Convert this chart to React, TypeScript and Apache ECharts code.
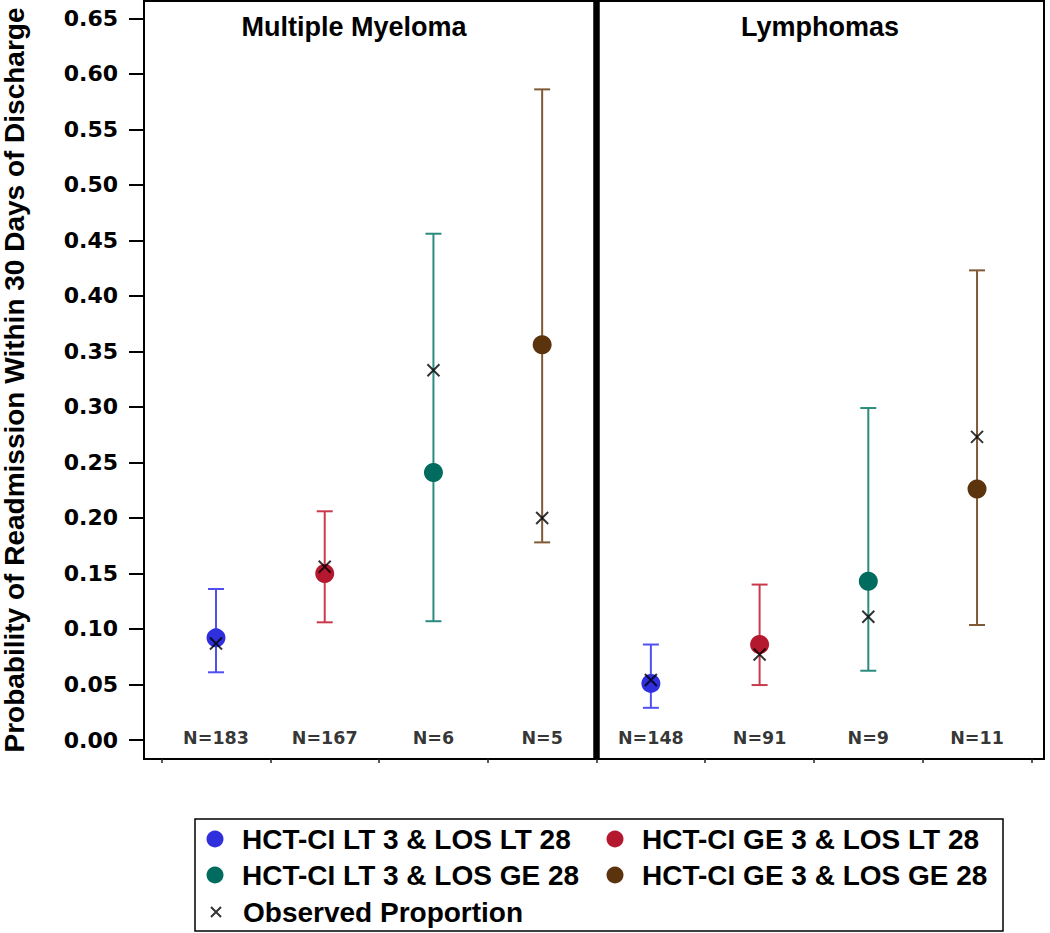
import React, { useEffect, useRef } from 'react';
import * as echarts from 'echarts';

const panelTitles = ['Multiple Myeloma', 'Lymphomas'];
const groupNames = [
  'HCT-CI LT 3 & LOS LT 28',
  'HCT-CI GE 3 & LOS LT 28',
  'HCT-CI LT 3 & LOS GE 28',
  'HCT-CI GE 3 & LOS GE 28',
];
const observedName = 'Observed Proportion';
const markerColors = ['#2F2FDE', '#B4182E', '#006B5E', '#5B330D'];
const barColors = ['#5050F0', '#C93B4C', '#2B8B7F', '#7F5A37'];

// Multiple Myeloma panel (slots 1-4)
const mmEstimate = [0.092, 0.15, 0.241, 0.356];
const mmLower = [0.061, 0.106, 0.107, 0.178];
const mmUpper = [0.136, 0.206, 0.456, 0.586];
const mmObserved = [0.087, 0.156, 0.333, 0.2];
const mmN = [183, 167, 6, 5];

// Lymphomas panel (slots 5-8)
const lymEstimate = [0.051, 0.086, 0.143, 0.226];
const lymLower = [0.029, 0.0495, 0.0624, 0.1036];
const lymUpper = [0.086, 0.14, 0.299, 0.423];
const lymObserved = [0.054, 0.077, 0.111, 0.273];
const lymN = [148, 91, 9, 11];

const yTicks = [0, 0.05, 0.1, 0.15, 0.2, 0.25, 0.3, 0.35, 0.4, 0.45, 0.5, 0.55, 0.6, 0.65];
const xSlotTicks = [0.5, 1.5, 2.5, 3.5, 4.5, 5.5, 6.5, 7.5, 8.5];
const panelDivider = 4.5;

const ARIAL = '"Liberation Sans", Arial, sans-serif';
const DEJAVU = '"DejaVu Sans", sans-serif';

const legendText = {
  fontFamily: ARIAL,
  fontWeight: 'bold',
  fontSize: 28,
  color: '#000',
  lineHeight: 36,
};

export default function App() {
  const ref = useRef<HTMLDivElement>(null);

  useEffect(() => {
    if (!ref.current) return;
    const chart = echarts.init(ref.current, null, { renderer: 'svg' });

    const slotMM = (g: number) => g + 1;
    const slotLym = (g: number) => g + 5;

    const errorData: any[] = [];
    groupNames.forEach((_, g) => {
      errorData.push([slotMM(g), mmLower[g], mmUpper[g], g]);
      errorData.push([slotLym(g), lymLower[g], lymUpper[g], g]);
    });

    const observedData: any[] = [];
    const nData: any[] = [];
    groupNames.forEach((_, g) => {
      observedData.push([slotMM(g), mmObserved[g]]);
      nData.push([slotMM(g), 0, 'N=' + mmN[g]]);
    });
    groupNames.forEach((_, g) => {
      observedData.push([slotLym(g), lymObserved[g]]);
      nData.push([slotLym(g), 0, 'N=' + lymN[g]]);
    });

    const groupSeries = groupNames.map((name, g) => ({
      name,
      type: 'scatter',
      symbol: 'circle',
      symbolSize: 19,
      z: 4,
      itemStyle: { color: markerColors[g], opacity: 1 },
      data: [
        [slotMM(g), mmEstimate[g]],
        [slotLym(g), lymEstimate[g]],
      ],
    }));

    const circleLegend = (names: string[], left: number) => ({
      data: names,
      icon: 'circle',
      orient: 'vertical',
      left,
      top: 821,
      padding: 0,
      itemGap: 0,
      itemWidth: 44,
      itemHeight: 17,
      selectedMode: false,
      textStyle: legendText,
    });

    const option: any = {
      animation: false,
      backgroundColor: '#ffffff',
      title: [
        {
          text: panelTitles[0],
          left: 354,
          top: 13,
          padding: 0,
          textAlign: 'center',
          textStyle: { fontFamily: ARIAL, fontWeight: 'bold', fontSize: 27, color: '#000' },
        },
        {
          text: panelTitles[1],
          left: 820,
          top: 13,
          padding: 0,
          textAlign: 'center',
          textStyle: { fontFamily: ARIAL, fontWeight: 'bold', fontSize: 27, color: '#000' },
        },
      ],
      grid: {
        left: 144,
        right: 6,
        top: 1,
        bottom: 174,
        show: true,
        borderColor: '#000',
        borderWidth: 2,
        backgroundColor: 'transparent',
        containLabel: false,
        outerBoundsMode: 'none',
      },
      legend: [
        circleLegend([groupNames[0], groupNames[2]], 206.5),
        circleLegend([groupNames[1], groupNames[3]], 606.5),
        {
          data: [observedName],
          orient: 'vertical',
          left: 210,
          top: 894,
          padding: 0,
          itemGap: 0,
          itemWidth: 44,
          itemHeight: 10,
          selectedMode: false,
          textStyle: legendText,
        },
      ],
      graphic: [
        {
          type: 'rect',
          shape: { x: 195, y: 819, width: 808, height: 112 },
          style: { fill: 'none', stroke: '#000', lineWidth: 1.5 },
          silent: true,
        },
      ],
      xAxis: {
        type: 'value',
        min: 0.3377,
        max: 8.616,
        axisLine: { show: true, onZero: false, lineStyle: { color: '#000', width: 2 } },
        axisTick: {
          show: true,
          customValues: xSlotTicks,
          length: 4,
          inside: false,
          lineStyle: { color: '#222', width: 1.5 },
        },
        axisLabel: { show: false },
        splitLine: { show: false },
      },
      yAxis: {
        type: 'value',
        min: -0.0171,
        max: 0.6656,
        name: 'Probability of Readmission Within 30 Days of Discharge',
        nameLocation: 'middle',
        nameGap: 116,
        nameTextStyle: { fontFamily: ARIAL, fontWeight: 'bold', fontSize: 28, color: '#000' },
        axisLine: { show: true, lineStyle: { color: '#000', width: 2 } },
        axisTick: {
          show: true,
          customValues: yTicks,
          length: 15,
          inside: false,
          lineStyle: { color: '#000', width: 2 },
        },
        axisLabel: {
          show: true,
          customValues: yTicks,
          margin: 26,
          formatter: (v: number) => v.toFixed(2),
          fontFamily: DEJAVU,
          fontWeight: 'bold',
          fontSize: 22,
          color: '#000',
        },
        splitLine: { show: false },
      },
      series: [
        {
          name: 'errorBars',
          type: 'custom',
          z: 2,
          silent: true,
          encode: { x: 0, y: [1, 2] },
          data: errorData,
          renderItem: (params: any, api: any) => {
            const x = api.value(0);
            const lo = api.value(1);
            const hi = api.value(2);
            const g = api.value(3);
            const pLo = api.coord([x, lo]);
            const pHi = api.coord([x, hi]);
            const style = { stroke: barColors[g], lineWidth: 2 };
            const cap = 8;
            return {
              type: 'group',
              children: [
                { type: 'line', shape: { x1: pLo[0], y1: pLo[1], x2: pHi[0], y2: pHi[1] }, style },
                { type: 'line', shape: { x1: pHi[0] - cap, y1: pHi[1], x2: pHi[0] + cap, y2: pHi[1] }, style },
                { type: 'line', shape: { x1: pLo[0] - cap, y1: pLo[1], x2: pLo[0] + cap, y2: pLo[1] }, style },
              ],
            };
          },
          markLine: {
            silent: true,
            symbol: 'none',
            label: { show: false },
            lineStyle: { color: '#000', width: 6.5, type: 'solid' },
            data: [{ xAxis: panelDivider }],
          },
        },
        ...groupSeries,
        {
          name: observedName,
          type: 'scatter',
          symbol: 'path://M0,0L10,10M10,0L0,10',
          symbolSize: 12,
          z: 5,
          itemStyle: { color: '#000', borderColor: '#000', borderWidth: 2 },
          data: observedData,
        },
        {
          name: 'nLabels',
          type: 'scatter',
          symbol: 'circle',
          symbolSize: 1,
          z: 5,
          silent: true,
          itemStyle: { color: 'transparent' },
          label: {
            show: true,
            position: 'inside',
            offset: [0, -2],
            formatter: (p: any) => p.value[2],
            fontFamily: DEJAVU,
            fontWeight: 'bold',
            fontSize: 17.5,
            color: '#000',
          },
          data: nData,
        },
      ],
    };

    chart.setOption(option);
    return () => chart.dispose();
  }, []);

  return (
    <div
      ref={ref}
      style={{ position: 'fixed', left: 0, top: 0, width: 1050, height: 933, background: '#fff' }}
    />
  );
}
